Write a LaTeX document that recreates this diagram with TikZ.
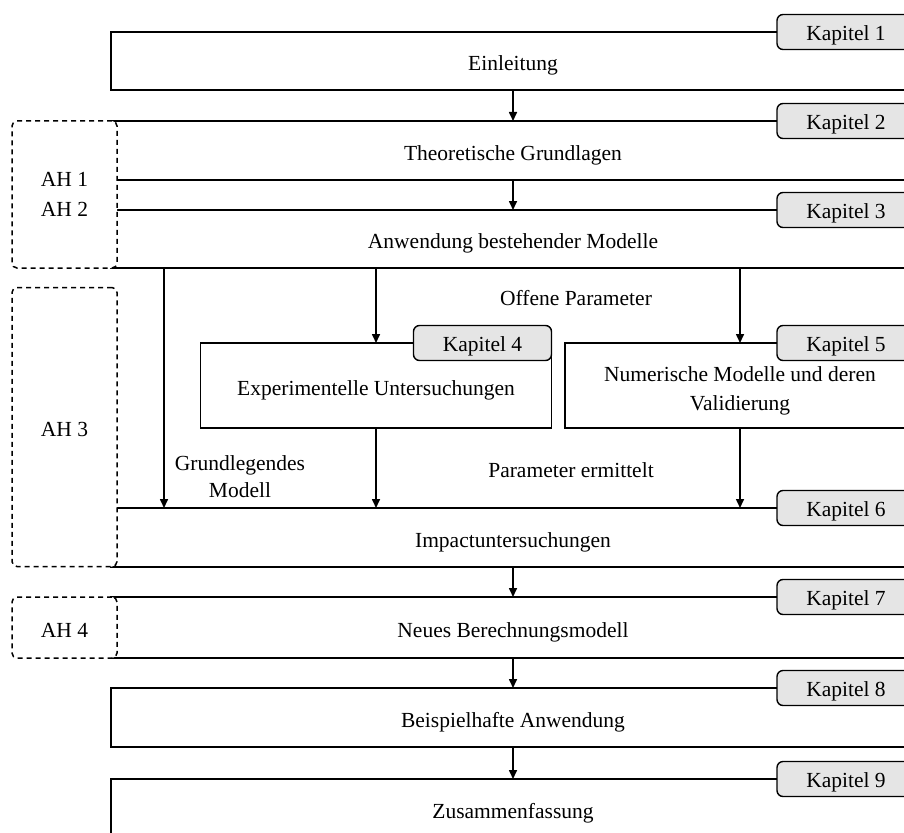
\documentclass[tikz,border=0pt]{standalone}
\usepackage{fontspec}
\setmainfont{Liberation Serif}
\usetikzlibrary{arrows.meta}
\begin{document}
\begin{tikzpicture}[x=1pt,y=-1pt,
  every node/.style={font=\fontsize{21.5}{28}\selectfont, inner sep=0pt, outer sep=0pt},
  chapbox/.style={draw=black, line width=1.6pt, fill=white, minimum width=804pt,
    text height=19pt, text depth=0pt},
  subbox/.style={draw=black, line width=1.6pt, fill=white, align=center},
  ahbox/.style={draw=black, line width=1.5pt, dash pattern=on 5pt off 4pt,
    rounded corners=5pt, fill=white, align=center, minimum width=105pt},
  tab/.style={draw=black, line width=1.4pt, rounded corners=6pt, fill=black!10,
    minimum width=138pt, minimum height=35pt, anchor=east, text height=17pt, text depth=0pt},
  arr/.style={line width=1.6pt, draw=black, -{Triangle[length=9pt,width=8pt]}},
  lbl/.style={align=center}
]
\clip (0,0) rectangle (904,832);
\useasboundingbox (0,0) rectangle (904,832);

% chapter boxes
\node[chapbox, minimum height=58pt] (einl) at (513,61) {Einleitung};
\node[chapbox, minimum height=59pt] (theo) at (513,150.5) {Theoretische Grundlagen};
\node[chapbox, minimum height=58pt] (anw) at (513,239) {Anwendung bestehender Modelle};
\node[subbox, minimum width=351pt, minimum height=85pt, text height=19pt, text depth=0pt] (exp) at (376,385.5) {Experimentelle Untersuchungen};
\node[subbox, minimum width=350pt, minimum height=85pt] (num) at (740,385.5) {};
\node[lbl, font=\fontsize{21.5}{29}\selectfont] (numtxt) at ([yshift=-5pt]num.center) {Numerische Modelle und deren\\Validierung};
\node[chapbox, minimum height=59pt] (imp) at (513,537.5) {Impactuntersuchungen};
\node[chapbox, minimum height=61pt] (neu) at (513,627.5) {Neues Berechnungsmodell};
\node[chapbox, minimum height=59pt] (bsp) at (513,717.5) {Beispielhafte Anwendung};
\node[chapbox, minimum height=59pt] (zus) at (513,808.5) {Zusammenfassung};

% work packages (dashed)
\node[ahbox, minimum height=147pt, font=\fontsize{21.5}{30}\selectfont] (ah12) at (64.5,194.5) {AH 1\\AH 2};
\node[ahbox, minimum height=279pt, text height=19pt, text depth=0pt] (ah3) at (64.5,427) {AH 3};
\node[ahbox, minimum height=61pt, text height=19pt, text depth=0pt] (ah4) at (64.5,627.5) {AH 4};

% chapter tabs
\node[tab] (k1) at (einl.north east) {Kapitel 1};
\node[tab] (k2) at (theo.north east) {Kapitel 2};
\node[tab] (k3) at (anw.north east) {Kapitel 3};
\node[tab] (k4) at (exp.north east) {Kapitel 4};
\node[tab] (k5) at (num.north east) {Kapitel 5};
\node[tab] (k6) at (imp.north east) {Kapitel 6};
\node[tab] (k7) at (neu.north east) {Kapitel 7};
\node[tab] (k8) at (bsp.north east) {Kapitel 8};
\node[tab] (k9) at (zus.north east) {Kapitel 9};

% labels
\node[lbl] (offen) at (576,298) {Offene Parameter};
\node[lbl] (ermittelt) at (571,470) {Parameter ermittelt};
\node[lbl, font=\fontsize{21.5}{27}\selectfont] (grund) at (240,477) {Grundlegendes\\Modell};

% connectors
\coordinate (c1) at (164,0);
\draw[arr] (einl.south) -- (theo.north);
\draw[arr] (theo.south) -- (anw.north);
\draw[arr] (anw.south -| c1) -- (imp.north -| c1);
\draw[arr] (anw.south -| exp.north) -- (exp.north);
\draw[arr] (anw.south -| num.north) -- (num.north);
\draw[arr] (exp.south) -- (imp.north -| exp.south);
\draw[arr] (num.south) -- (imp.north -| num.south);
\draw[arr] (imp.south) -- (neu.north);
\draw[arr] (neu.south) -- (bsp.north);
\draw[arr] (bsp.south) -- (zus.north);
\end{tikzpicture}
\end{document}
